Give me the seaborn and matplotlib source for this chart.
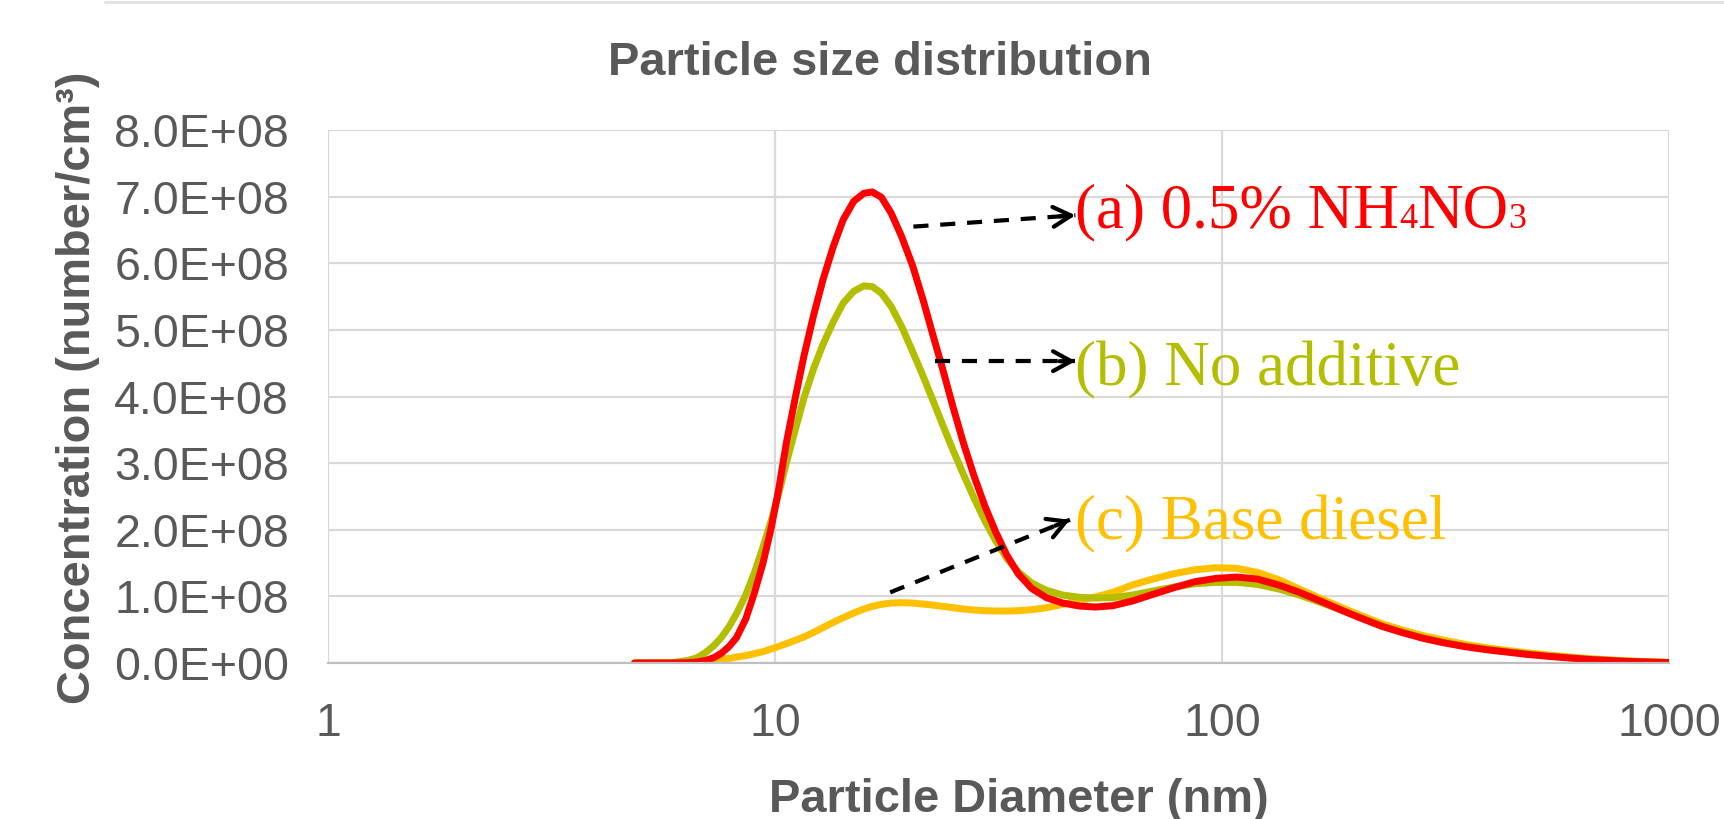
import numpy as np
import pandas as pd
import matplotlib.pyplot as plt
import matplotlib.ticker as mticker
from matplotlib.lines import Line2D
import seaborn as sns

# Datos (concentracion en unidades de 1E+08)
diametro_nm = [4.85, 5.9, 6.4, 6.7, 7.0, 7.3, 7.6, 7.9, 8.2, 8.6,
               9.0, 9.4, 9.8, 10.2, 10.6, 11.1, 11.6, 12.2, 12.8, 13.5,
               14.2, 15.0, 15.8, 16.5, 17.3, 18.2, 19.2, 20.3, 21.4, 22.5,
               23.7, 25.0, 26.4, 27.9, 29.5, 31.2, 33.0, 35.0, 37.5, 40.5,
               44, 48, 52, 57, 63, 70, 78, 87, 97, 108,
               120, 134, 149, 166, 184, 205, 228, 255, 282, 315,
               350, 390, 433, 480, 537, 600, 665, 800, 1000]

conc_nh4no3 = [0, 0, 0.005, 0.015, 0.04, 0.08, 0.15, 0.25, 0.38, 0.66,
               1.06, 1.5, 2.02, 2.62, 3.3, 3.98, 4.6, 5.22, 5.75, 6.25,
               6.65, 6.93, 7.05, 7.07, 6.99, 6.75, 6.4, 5.97, 5.47, 4.95,
               4.42, 3.85, 3.3, 2.8, 2.35, 1.96, 1.62, 1.34, 1.12, 0.98,
               0.9, 0.855, 0.84, 0.86, 0.93, 1.03, 1.13, 1.22, 1.27, 1.29,
               1.26, 1.17, 1.06, 0.93, 0.8, 0.67, 0.55, 0.45, 0.37, 0.3,
               0.245, 0.2, 0.165, 0.13, 0.1, 0.075, 0.052, 0.025, 0.005]

conc_sin_aditivo = [0, 0.005, 0.04, 0.08, 0.16, 0.26, 0.39, 0.55, 0.74, 1.02,
                    1.36, 1.74, 2.13, 2.55, 3.0, 3.5, 3.97, 4.42, 4.78, 5.12,
                    5.4, 5.58, 5.66, 5.65, 5.55, 5.35, 5.05, 4.68, 4.32, 3.96,
                    3.58, 3.2, 2.83, 2.47, 2.13, 1.83, 1.57, 1.37, 1.2, 1.09,
                    1.02, 0.985, 0.975, 0.98, 1.02, 1.08, 1.14, 1.19, 1.21, 1.21,
                    1.18, 1.11, 1.02, 0.91, 0.8, 0.68, 0.56, 0.46, 0.38, 0.31,
                    0.255, 0.21, 0.175, 0.14, 0.108, 0.08, 0.057, 0.028, 0.007]

conc_diesel_base = [0, 0.003, 0.008, 0.018, 0.03, 0.04, 0.055, 0.07, 0.09, 0.11,
                    0.14, 0.17, 0.21, 0.25, 0.29, 0.34, 0.39, 0.46, 0.53, 0.61,
                    0.68, 0.75, 0.81, 0.85, 0.88, 0.9, 0.905, 0.9, 0.885, 0.87,
                    0.85, 0.83, 0.81, 0.795, 0.785, 0.78, 0.78, 0.785, 0.8, 0.83,
                    0.88, 0.94, 0.99, 1.06, 1.17, 1.26, 1.34, 1.4, 1.43, 1.42,
                    1.36, 1.25, 1.11, 0.97, 0.84, 0.71, 0.59, 0.49, 0.41, 0.34,
                    0.28, 0.23, 0.19, 0.155, 0.12, 0.09, 0.065, 0.032, 0.01]

series = ['(c) Base diesel', '(b) No additive', '(a) 0.5% NH4NO3']
colores = {'(a) 0.5% NH4NO3': '#FF0000',
           '(b) No additive': '#B4BE00',
           '(c) Base diesel': '#FFC000'}

n = len(diametro_nm)
df = pd.DataFrame({
    'diametro': diametro_nm * 3,
    'conc': np.array(conc_diesel_base + conc_sin_aditivo + conc_nh4no3) * 1e8,
    'serie': [series[0]] * n + [series[1]] * n + [series[2]] * n,
})

sns.set_style("white")
plt.rcParams['font.family'] = ['Liberation Sans', 'DejaVu Sans']
serif = ['Liberation Serif', 'DejaVu Serif']
gris = '#595959'

W, H = 1724, 819
fig = plt.figure(figsize=(W / 72, H / 72), dpi=72)
ax = fig.add_axes([328 / W, 1 - 663 / H, (1669 - 328) / W, (663 - 130) / H])

sns.lineplot(data=df, x='diametro', y='conc', hue='serie', hue_order=series,
             palette=colores, estimator=None, sort=False, legend=False, ax=ax)
# grosor de las curvas
for linea in ax.get_lines():
    linea.set_linewidth(7)
    linea.set_solid_capstyle('round')
    linea.set_solid_joinstyle('round')

ax.set_xscale('log')
ax.set_xlim(1, 1000)
ax.set_ylim(0, 8e8)
ax.set_yticks(np.arange(0, 8.01e8, 1e8))
ax.set_xticks([1, 10, 100, 1000])
ax.xaxis.set_minor_locator(mticker.NullLocator())
ax.yaxis.set_major_formatter(mticker.FuncFormatter(lambda v, p: f'{v:.1E}'))
ax.xaxis.set_major_formatter(mticker.FuncFormatter(lambda v, p: f'{v:g}'))
ax.tick_params(labelsize=46.5, colors=gris, length=0, pad=39)
ax.grid(True, color='#d9d9d9', lw=2.2)
ax.set_axisbelow(True)
for s in ['top', 'right', 'left']:
    ax.spines[s].set_visible(False)
ax.spines['bottom'].set_color('#bfbfbf')
ax.spines['bottom'].set_linewidth(2.2)
ax.set_xlabel('')
ax.set_ylabel('')

# Titulos
fig.text(880 / W, 1 - 75 / H, 'Particle size distribution', ha='center', va='baseline',
         fontsize=47, fontweight='bold', color=gris)
fig.text(1019 / W, 1 - 812 / H, 'Particle Diameter (nm)', ha='center', va='baseline',
         fontsize=47, fontweight='bold', color=gris)
fig.text(78 / W, 1 - 388 / H, 'Concentration (number/cm³)', rotation=90, ha='center',
         va='center', fontsize=47, fontweight='bold', color=gris)

# linea gris arriba
fig.add_artist(Line2D([105 / W, 1], [1 - 1.5 / H, 1 - 1.5 / H], color='#e3e3e3', lw=3))

# Flechas punteadas
flechas = [((20.4, 6.55e8), (47.0, 6.72e8)),
           ((22.8, 4.53e8), (47.0, 4.53e8)),
           ((18.1, 1.06e8), (45.7, 2.15e8))]
for (x0, y0), (x1, y1) in flechas:
    ax.plot([x0, x1], [y0, y1], color='black', lw=4.2, dashes=(3.6, 2.8), solid_capstyle='butt')
    p0 = ax.transData.transform((x0, y0))
    p1 = ax.transData.transform((x1, y1))
    d = (p1 - p0) / np.hypot(*(p1 - p0))
    ax.annotate('', xy=(x1, y1), xytext=(-d[0] * 16, -d[1] * 16), textcoords='offset points',
                arrowprops=dict(arrowstyle='->,head_length=1.0,head_width=0.55', mutation_scale=18,
                                color='black', lw=4.2, shrinkA=0, shrinkB=0))

# Etiquetas de las curvas
x_txt = 47
t = ax.text(x_txt, 6.53e8, '(a) 0.5% NH', fontsize=63, color='#FF0000', family=serif,
            ha='left', va='baseline')
t4 = ax.annotate('4', xy=(1, 0), xycoords=t, xytext=(0, 6), textcoords='offset points',
                 fontsize=36, color='#FF0000', family=serif, ha='left', va='bottom')
tno = ax.annotate('NO', xy=(1, 0), xycoords=t4, xytext=(0, -6), textcoords='offset points',
                  fontsize=63, color='#FF0000', family=serif, ha='left', va='bottom')
ax.annotate('3', xy=(1, 0), xycoords=tno, xytext=(0, 6), textcoords='offset points',
            fontsize=36, color='#FF0000', family=serif, ha='left', va='bottom')
ax.text(x_txt, 4.17e8, '(b) No additive', fontsize=63, color=colores['(b) No additive'],
        family=serif, ha='left', va='baseline')
ax.text(x_txt, 1.85e8, '(c) Base diesel', fontsize=63, color=colores['(c) Base diesel'],
        family=serif, ha='left', va='baseline')

fig.savefig('out.png', dpi=72)
